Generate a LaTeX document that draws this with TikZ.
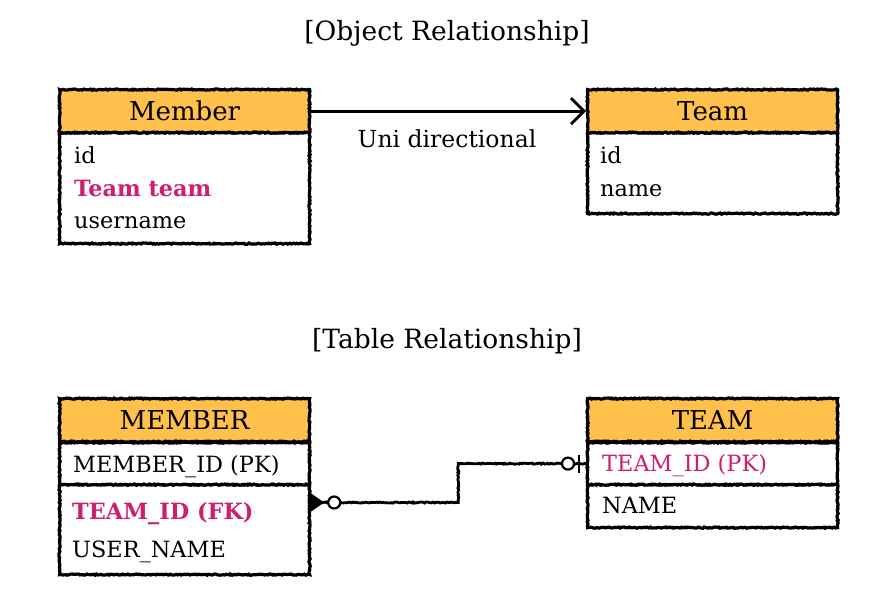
\documentclass[tikz,border=0pt]{standalone}
\usepackage{fontspec}
\setmainfont{DejaVu Serif}
\usetikzlibrary{arrows.meta,decorations.pathmorphing}
\definecolor{hdr}{RGB}{255,192,76}
\definecolor{fkc}{RGB}{207,30,110}
\begin{document}
\begin{tikzpicture}[x=1pt,y=-1pt,
  rough/.style={decorate,decoration={random steps,segment length=1.6pt,amplitude=0.6pt}},
  hdrbox/.style={draw=black,line width=3.2pt,rough,fill=hdr,rectangle,inner sep=0pt,minimum width=250pt,minimum height=43pt,anchor=north west,font=\fontsize{26}{26}\selectfont},
  bodybox/.style={draw=black,line width=3.2pt,rough,fill=white,rectangle,inner sep=0pt,minimum width=250pt,anchor=north west},
  txt/.style={anchor=base west,inner sep=0pt,font=\fontsize{22.4}{22.4}\selectfont},
  pink/.style={txt,text=fkc},
  title/.style={anchor=base,inner sep=0pt,font=\fontsize{26.5}{26.5}\selectfont},
  conn/.style={draw=black,line width=2.8pt,rough},
  circ/.style={circle,draw=black,line width=2.2pt,fill=white,minimum size=12pt,inner sep=0pt}
]
\useasboundingbox (0,0) rectangle (888,592);
\fill[white] (0,0) rectangle (888,592);

% ---------- Object relationship ----------
\node[title] (t1) at (447,40) {[Object Relationship]};

\node[bodybox,minimum height=111pt] (mb) at (58,131) {};
\node[hdrbox] (mh) at (58,88) {Member};
\node[txt] (m1) at (74,163) {id};
\node[pink] (m2) at (74,196) {\bfseries Team team};
\node[txt] (m3) at (74,228) {username};

\node[bodybox,minimum height=81pt] (tb) at (586,131) {};
\node[hdrbox] (th) at (586,88) {Team};
\node[txt] (t1a) at (600,163) {id};
\node[txt] (t1b) at (600,196) {name};

\draw[draw=black,line width=2.8pt,-{Straight Barb[length=13pt,width=26pt,line width=2.8pt]}] (mh.east) -- (th.west);
\node[title,font=\fontsize{23.5}{23.5}\selectfont] (uni) at (447,147) {Uni directional};

% ---------- Table relationship ----------
\node[title] (t2) at (447,348) {[Table Relationship]};

\node[bodybox,minimum height=90pt] (mr2) at (58,483) {};
\node[bodybox,minimum height=42pt] (mr1) at (58,441) {};
\node[hdrbox] (MH) at (58,397) {MEMBER};
\node[txt] (M1) at (73,472) {MEMBER\_ID (PK)};
\node[pink] (M2) at (72,519) {\bfseries TEAM\_ID (FK)};
\node[txt] (M3) at (72,557) {USER\_NAME};

\node[bodybox,minimum height=43pt] (tr2) at (586,483) {};
\node[bodybox,minimum height=42pt] (tr1) at (586,441) {};
\node[hdrbox] (TH) at (586,397) {TEAM};
\node[pink] (T1) at (602,471) {TEAM\_ID (PK)};
\node[txt] (T2) at (602,513) {NAME};

\coordinate (fkend) at ([yshift=-19.5pt]mr2.north east);
\draw[conn] (fkend) -- ++(147,0) |- (tr1.west);
\fill[black] ([yshift=9pt]fkend) -- ([yshift=-9pt]fkend) -- ([xshift=13pt]fkend) -- cycle;
\node[circ] (o1) at ([xshift=23pt]fkend) {};
\node[circ] (o2) at ([xshift=-18pt]tr1.west) {};
\draw[line width=2.8pt] ([xshift=-7pt,yshift=9pt]tr1.west) -- ([xshift=-7pt,yshift=-9pt]tr1.west);
\end{tikzpicture}
\end{document}
